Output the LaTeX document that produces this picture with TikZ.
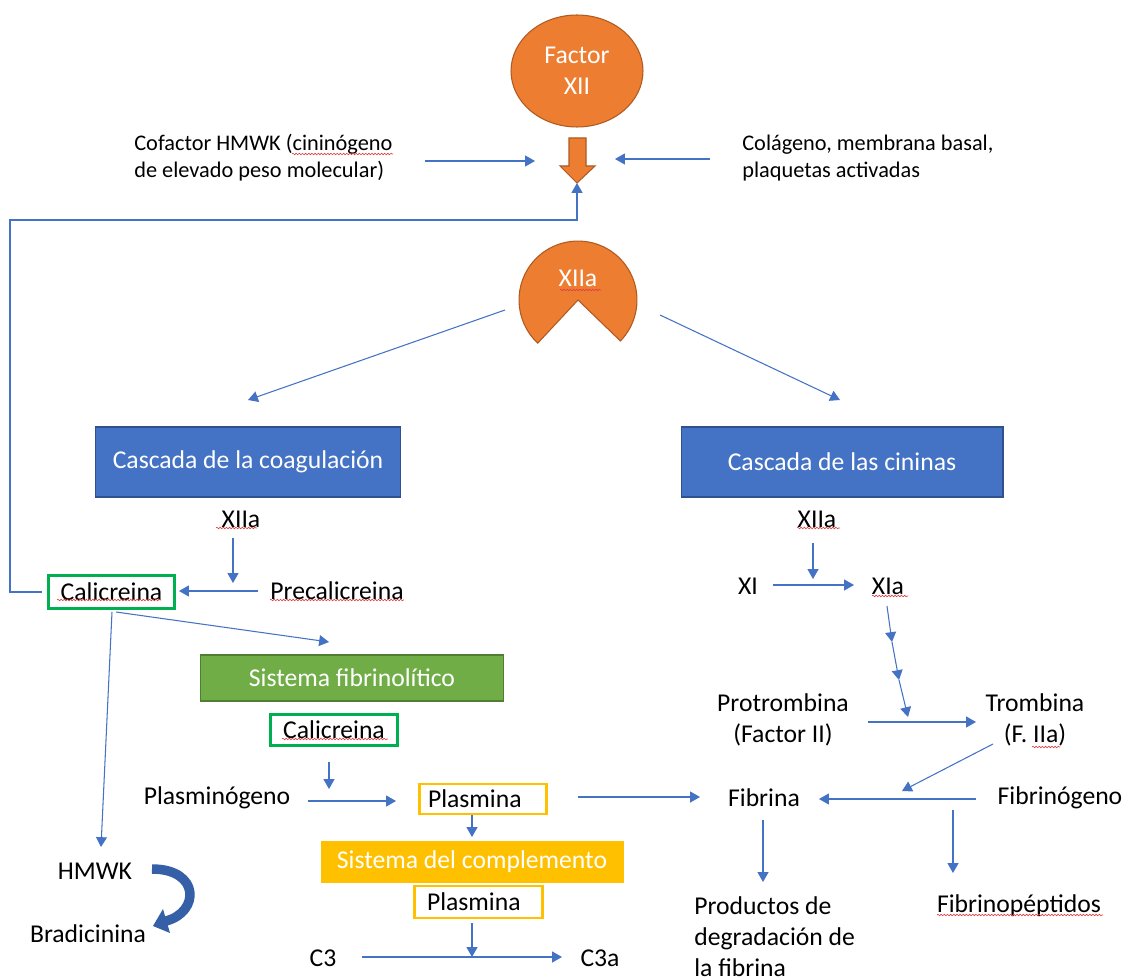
\documentclass[tikz,border=0pt]{standalone}
\usepackage{fontspec}
\setmainfont{Carlito}
\usetikzlibrary{arrows.meta,shapes.geometric,decorations.pathmorphing}
\definecolor{orfill}{HTML}{ED7D31}
\definecolor{oredge}{HTML}{AE5A21}
\definecolor{bxblue}{HTML}{4472C4}
\definecolor{bxblueedge}{HTML}{2F528F}
\definecolor{bxgreen}{HTML}{70AD47}
\definecolor{bxgreenedge}{HTML}{507E32}
\definecolor{frgreen}{HTML}{00B050}
\definecolor{yel}{HTML}{FFC000}
\definecolor{lnblue}{HTML}{4472C4}
\definecolor{curveblue}{HTML}{3560A8}
\definecolor{spellred}{HTML}{E04040}
\begin{document}
\begin{tikzpicture}[x=0.02cm,y=-0.02cm,
  big/.style={font=\fontsize{14.6}{17.6}\selectfont, inner sep=0pt},
  small/.style={font=\fontsize{12.7}{15.3}\selectfont, inner sep=0pt},
  flow/.style={draw=lnblue, line width=0.6pt, -{Triangle[length=5.6pt,width=6.2pt]}},
  bluebox/.style={big, fill=bxblue, draw=bxblueedge, line width=0.6pt, text=white, minimum height=1.4cm},
  greenbox/.style={big, fill=bxgreen, draw=bxgreenedge, line width=0.6pt, text=white},
  yelbox/.style={big, fill=yel, draw=yel, line width=0.6pt, text=white},
  calbox/.style={big, draw=frgreen, line width=1.7pt, fill=white},
  plasbox/.style={big, draw=yel, line width=1.7pt, fill=white},
  orange/.style={fill=orfill, draw=oredge, line width=0.6pt},
  squig/.style={draw=spellred, line width=0.35pt, decorate, decoration={snake, amplitude=0.45pt, segment length=1.8pt}}
]
\useasboundingbox (0,0) rectangle (1134,980);
\fill[white] (0,0) rectangle (1134,980);

% --- Factor XII and its activation ---
\node[ellipse, orange, minimum width=2.64cm, minimum height=2.24cm, big, text=white, align=center] (f12) at (577,71) {Factor\\XII};
\filldraw[orange] (569,138) -- (586,138) -- (586,166) -- (595,166) -- (577,183) -- (560,166) -- (569,166) -- cycle;
\coordinate (join) at (577,183);

\node[small, align=left, anchor=west] (cofactor) at (134,158) {Cofactor HMWK (cininógeno\\de elevado peso molecular)};
\node[small, align=left, anchor=west] (colageno) at (742,158) {Colágeno, membrana basal,\\plaquetas activadas};
\coordinate (cofA) at (425,161);
\coordinate (cofB) at (535,161);
\coordinate (colA) at (710,159);
\coordinate (colB) at (615,159);
\draw[flow] (cofA) -- (cofB);
\draw[flow] (colA) -- (colB);

% --- XIIa (pac-man shape) ---
\filldraw[orange] (578,300) -- ++(133:59) arc[start angle=227, end angle=-44, radius=1.18cm] -- cycle;
\node[big, text=white] (xiia) at (578,278) {XIIa};

\coordinate (spL) at (505,310);
\coordinate (spLe) at (248,400);
\coordinate (spR) at (660,315);
\coordinate (spRe) at (840,400);
\draw[flow] (spL) -- (spLe);
\draw[flow] (spR) -- (spRe);

% --- two cascades ---
\node[bluebox, minimum width=6.12cm] (coag) at (248,462) {Cascada de la coagulación};
\node[bluebox, minimum width=6.44cm] (cinin) at (842,462) {Cascada de las cininas};

% left branch
\node[big] (xiiaL) at (241,519) {XIIa};
\node[calbox, minimum width=2.54cm, minimum height=0.66cm] (cal1) at (111.5,592) {Calicreina};
\node[big] (precal) at (337,591) {Precalicreina};
\coordinate (xL1) at (233,538);
\coordinate (xL2) at (233,583);
\coordinate (prA) at (258,591);
\coordinate (prB) at (179,591);
\draw[flow] (xL1) -- (xL2);
\draw[flow] (prA) -- (prB);

% feedback to Factor XII activation
\coordinate (fbtop) at (10,220);
\draw[flow] ([xshift=-2.3pt]cal1.west) -| (fbtop) -| (join);

\coordinate (calA) at (116,612);
\coordinate (calB) at (329,642);
\coordinate (calC) at (112,612);
\coordinate (calD) at (101,847);
\draw[flow] (calA) -- (calB);
\draw[flow] (calC) -- (calD);

\node[greenbox, minimum width=6.08cm, minimum height=0.92cm] (fibri) at (352,678) {Sistema fibrinolítico};
\node[calbox, minimum width=2.56cm, minimum height=0.62cm] (cal2) at (334,730) {Calicreina};
\node[big] (plasmgn) at (217,798) {Plasminógeno};
\node[plasbox, minimum width=2.56cm, minimum height=0.6cm, text width=2.3cm, align=left] (plas1) at (483,799) {\hspace*{0.05cm}Plasmina};
\coordinate (c2A) at (329,762);
\coordinate (c2B) at (329,789);
\coordinate (pgA) at (308,801);
\coordinate (pgB) at (396,801);
\draw[flow] (c2A) -- (c2B);
\draw[flow] (pgA) -- (pgB);

\node[yelbox, minimum width=6.04cm, minimum height=0.82cm] (comp) at (472,862) {Sistema del complemento};
\node[plasbox, minimum width=2.58cm, minimum height=0.64cm, text width=2.3cm, align=left] (plas2) at (478.5,902) {\hspace*{0.12cm}Plasmina};
\coordinate (p1A) at (472,815);
\coordinate (p1B) at (472,837);
\draw[flow] (p1A) -- (p1B);

\node[big] (c3) at (323,958) {C3};
\node[big] (c3a) at (600,958) {C3a};
\coordinate (p2A) at (472,923);
\coordinate (p2B) at (472,957);
\coordinate (c3A) at (362,957);
\coordinate (c3B) at (562,957);
\draw[flow] (p2A) -- (p2B);
\draw[flow] (c3A) -- (c3B);

% kinins
\node[big] (hmwk) at (95,871) {HMWK};
\node[big] (bradi) at (88,934) {Bradicinina};
\coordinate (curveS) at (152,869);
\coordinate (curveE) at (166,921);
\draw[curveblue, line width=5.4pt] (curveS) .. controls (200,869) and (200,912) .. (curveE);
\fill[curveblue] (163,909) -- (153,926) -- (170,933) -- cycle;

% right branch
\node[big] (xiiaR) at (817,519) {XIIa};
\node[big] (xi) at (748,586) {XI};
\node[big] (xia) at (888,586) {XIa};
\coordinate (xR1) at (813,543);
\coordinate (xR2) at (813,579);
\coordinate (xiA) at (773,585);
\coordinate (xiB) at (854,585);
\draw[flow] (xR1) -- (xR2);
\draw[flow] (xiA) -- (xiB);

\coordinate (st0) at (887,606);
\coordinate (st1) at (892,642);
\coordinate (st2) at (899,680);
\coordinate (st3) at (908,717);
\draw[flow] (st0) -- (st1);
\draw[flow] (st1) -- (st2);
\draw[flow] (st2) -- (st3);

\node[big, align=center] (protro) at (783,720) {Protrombina\\(Factor II)};
\node[big, align=center] (trombi) at (1035,720) {Trombina\\(F. IIa)};
\coordinate (ptA) at (868,722);
\coordinate (ptB) at (976,722);
\draw[flow] (ptA) -- (ptB);

\node[big] (fibrina) at (764,798) {Fibrina};
\node[big] (fibrgn) at (1060,798) {Fibrinógeno};
\coordinate (plA) at (578,797);
\coordinate (plB) at (700,797);
\coordinate (fgA) at (976,799);
\coordinate (fgB) at (819,799);
\coordinate (trA) at (993,744);
\coordinate (trB) at (902,791);
\draw[flow] (plA) -- (plB);
\draw[flow] (fgA) -- (fgB);
\draw[flow] (trA) -- (trB);

\node[big, align=left, anchor=west] (prod) at (694,937) {Productos de\\degradación de\\la fibrina};
\node[big] (fpep) at (1019,906) {Fibrinopéptidos};
\coordinate (frA) at (763,820);
\coordinate (frB) at (763,882);
\coordinate (fpA) at (953,810);
\coordinate (fpB) at (953,873);
\draw[flow] (frA) -- (frB);
\draw[flow] (fpA) -- (fpB);

% spell-check underlines under unknown words
\draw[squig] (292,154) -- (393,154);
\draw[squig] (560,290) -- (601,290);
\draw[squig] (216,528) -- (257,528);
\draw[squig] (57,600) -- (161,600);
\draw[squig] (270,600) -- (404,600);
\draw[squig] (282,739) -- (388,739);
\draw[squig] (797,528) -- (840,528);
\draw[squig] (872,596) -- (908,596);
\draw[squig] (1032,747) -- (1060,747);
\draw[squig] (937,915) -- (1103,915);
\end{tikzpicture}
\end{document}
